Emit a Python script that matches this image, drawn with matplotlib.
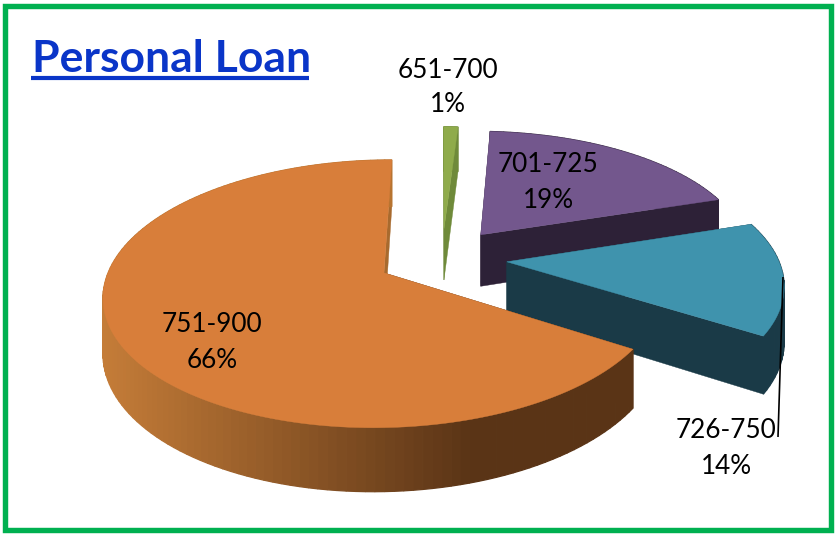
import numpy as np
import matplotlib
matplotlib.use("Agg")
import matplotlib.pyplot as plt
from matplotlib.patches import Rectangle, Polygon
from matplotlib.colors import to_rgb

categories = ["651-700", "701-725", "726-750", "751-900"]
shares = [1, 19, 14, 66]
top_colors = ["#8FAB4B", "#73578D", "#3F93AD", "#D87E3A"]
wall_colors = ["#6F8A3A", "#2D2137", "#1A3A47", "#5A3416"]
title = "Personal Loan"

# pie geometry (screen pixels / projection parameters)
CX, CY, A, B, K, H = 442, 258, 271, 126, 0.154, 53
EXPLODE = 0.24
START = 90.0
label_xy = [(448, 69, 104), (548, 164, 199), (726, 429, 465), (212, 324, 359)]

def project(wx, wy):
    d = 1 + K * wy
    return CX + A * wx / d, CY - B * wy / d, H / d

fig = plt.figure(figsize=(8.37, 5.34), dpi=100)
ax = fig.add_axes([0, 0, 1, 1])
ax.set_xlim(0, 837)
ax.set_ylim(534, 0)
ax.axis("off")

ax.add_patch(Rectangle((5.5, 5.5), 826, 524, fill=False, ec="#00B050", lw=3.9))

def wedge_points(t0, t1, ox, oy, n=90):
    th = np.radians(np.linspace(t0, t1, n))
    return project(ox + np.cos(th), oy + np.sin(th))

def orange_shade(x, y, base):
    # back rim stays mid-brown; front rim darkens toward the right
    if y < CY:
        return to_rgb("#B87430")
    light = np.array(to_rgb("#C47C38"))
    dark = np.array(to_rgb(base))
    f = np.clip((x - 105) / (470 - 105), 0, 1)
    return tuple(light * (1 - f) + dark * f)

a = START
slices = []
for cat, v, tc, wc in zip(categories, shares, top_colors, wall_colors):
    sweep = v / sum(shares) * 360
    slices.append((cat, v, tc, wc, a, a - sweep))
    a -= sweep

for i, (cat, v, tc, wc, t0, t1) in enumerate(slices):
    mid = np.radians((t0 + t1) / 2)
    ox, oy = EXPLODE * np.cos(mid), EXPLODE * np.sin(mid)
    ax_, ay_, ah = project(ox, oy)
    xs, ys, hs = wedge_points(t0, t1, ox, oy, n=max(12, int(abs(t1 - t0) * 0.6)))
    # radial walls
    for j in (0, -1):
        c = "#A86A2E" if (i == 3 and j == -1) else wc
        ax.add_patch(Polygon([(ax_, ay_), (xs[j], ys[j]), (xs[j], ys[j] + hs[j]), (ax_, ay_ + ah)],
                             fc=c, ec=c, lw=0.3))
    # rim wall
    for j in range(len(xs) - 1):
        c = orange_shade((xs[j] + xs[j + 1]) / 2, (ys[j] + ys[j + 1]) / 2, wc) if i == 3 else wc
        ax.add_patch(Polygon([(xs[j], ys[j]), (xs[j + 1], ys[j + 1]),
                              (xs[j + 1], ys[j + 1] + hs[j + 1]), (xs[j], ys[j] + hs[j])],
                             fc=c, ec=c, lw=0.9))
    # top face
    ax.add_patch(Polygon(np.vstack([[ax_, ay_], np.column_stack([xs, ys])]), fc=tc, ec=tc, lw=0.3))

ax.plot([783, 778], [277, 437], color="black", lw=1.2, solid_capstyle="butt")

font = "Lato"
for (cat, v), (x, y1, y2) in zip(zip(categories, shares), label_xy):
    ax.text(x, y1 + 1, cat, ha="center", va="center", fontsize=18.8, family=font, color="black")
    ax.text(x, y2 + 1, f"{v}%", ha="center", va="center", fontsize=18.8, family=font, color="black")

ax.text(32, 72, title, ha="left", va="baseline", fontsize=32, family=font, fontweight="bold", color="#0A35C8")
ax.plot([31, 309], [77.5, 77.5], color="#0A35C8", lw=3, solid_capstyle="butt")

fig.savefig("out.png", dpi=100)
